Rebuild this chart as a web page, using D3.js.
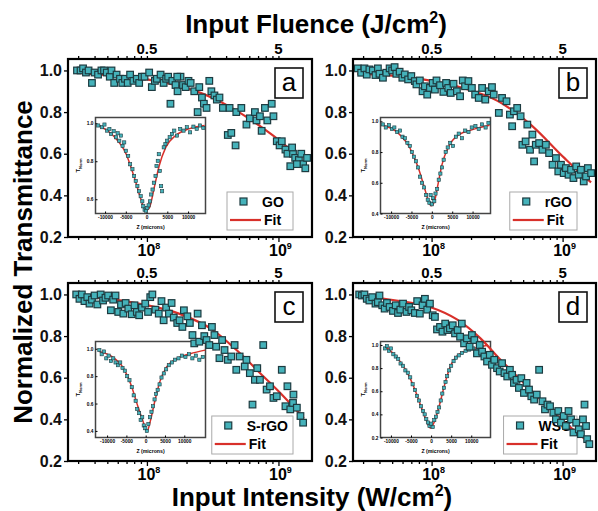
<!DOCTYPE html>
<html>
<head>
<meta charset="utf-8">
<script src="https://cdn.jsdelivr.net/npm/d3@7"></script>
<style>
  body { margin: 0; background: #fff; }
  svg { display: block; font-family: "Liberation Sans", Arial, sans-serif; }
</style>
</head>
<body>
<div id="chart"></div>
<script>
// intensities are listed in units of 1e8 W/cm^2
const UNIT = 1e8;
const PULSE = 5e-9; // fluence (J/cm^2) = intensity * pulse width

const samples = ['GO', 'rGO', 'S-rGO', 'WSG'];
const letters = ['a', 'b', 'c', 'd'];
const yTicks = [0.2, 0.4, 0.6, 0.8, 1.0];
const decadeTicks = [1e8, 1e9];
const fluenceLabels = [0.5, 5];
const zTicks = [-10000, -5000, 0, 5000, 10000];

// open aperture points [I (1e8 W/cm^2), normalized T]
const pointsGO = [[0.294,1.00],[0.313,1.00],[0.327,1.01],[0.344,0.99],[0.36,1.00],[0.382,0.94],[0.40,0.99],[0.425,0.98],[0.451,1.00],[0.472,1.00],[0.495,0.99],[0.522,0.97],[0.538,1.00],[0.564,0.94],[0.588,0.98],[0.624,0.96],[0.65,0.94],[0.681,0.96],[0.714,0.94],[0.745,0.98],[0.789,0.95],[0.838,0.96],[0.873,0.94],[0.916,0.97],[0.959,0.97],[1.04,0.99],[1.09,0.92],[1.15,0.95],[1.19,0.96],[1.27,0.98],[1.34,0.94],[1.40,0.96],[1.45,0.97],[1.51,0.84],[1.56,0.95],[1.65,0.93],[1.71,0.90],[1.80,0.97],[1.88,0.93],[1.97,0.92],[2.07,0.95],[1.70,0.97],[2.15,0.94],[2.29,0.90],[2.43,0.80],[2.50,0.92],[2.62,0.87],[2.71,0.84],[2.84,0.82],[2.98,0.95],[3.09,0.90],[3.26,0.88],[3.40,0.86],[3.56,0.87],[3.78,0.82],[4.12,0.69],[4.38,0.70],[4.25,0.82],[4.72,0.64],[4.78,0.80],[5.22,0.82],[5.71,0.74],[6.06,0.77],[6.62,0.80],[6.81,0.76],[7.23,0.78],[7.45,0.71],[7.89,0.82],[8.23,0.76],[8.89,0.84],[9.16,0.78],[9.71,0.66],[10.2,0.64],[10.6,0.66],[11.3,0.62],[11.7,0.60],[12.3,0.54],[12.9,0.60],[13.4,0.58],[14.3,0.57],[14.9,0.60],[15.4,0.55],[16.0,0.53],[16.5,0.58],[12.7,0.63],[13.8,0.55]];
const pointsRGO = [[0.273,1.01],[0.29,0.989],[0.307,1.01],[0.32,0.98],[0.335,1.005],[0.356,1.0],[0.373,0.978],[0.389,1.01],[0.40,0.984],[0.425,0.965],[0.451,0.989],[0.478,1.01],[0.50,1.0],[0.522,1.016],[0.538,0.984],[0.57,0.994],[0.598,0.965],[0.624,0.981],[0.662,0.957],[0.70,0.973],[0.745,0.949],[0.766,0.933],[0.813,0.952],[0.853,0.90],[0.889,0.924],[0.926,0.884],[0.971,0.916],[1.02,0.94],[1.06,0.908],[1.09,0.952],[1.16,0.929],[1.23,0.897],[1.29,0.94],[1.34,0.916],[1.40,0.892],[1.47,0.936],[1.56,0.90],[1.65,0.876],[1.73,0.952],[1.80,0.924],[1.91,0.949],[2.03,0.916],[2.15,0.884],[2.29,0.868],[2.43,0.916],[2.57,0.86],[2.73,0.90],[2.89,0.92],[2.98,0.884],[3.26,0.796],[3.45,0.868],[3.73,0.852],[3.96,0.788],[4.12,0.732],[4.25,0.804],[4.50,0.82],[4.78,0.78],[4.93,0.643],[5.22,0.659],[5.38,0.74],[5.64,0.619],[5.88,0.692],[6.06,0.563],[6.24,0.643],[6.62,0.651],[7.02,0.619],[7.45,0.643],[7.89,0.603],[8.38,0.547],[8.89,0.579],[9.27,0.515],[9.71,0.547],[10.2,0.507],[10.6,0.531],[11.1,0.499],[11.6,0.523],[12.1,0.483],[12.7,0.539],[13.3,0.499],[13.8,0.523],[14.5,0.467],[15.1,0.491],[15.6,0.531],[16.5,0.507]];
const pointsSRGO = [[0.29,1.0],[0.307,0.979],[0.32,1.0],[0.335,0.968],[0.352,0.987],[0.366,0.956],[0.382,0.975],[0.40,0.995],[0.42,0.952],[0.445,1.0],[0.464,0.971],[0.484,0.984],[0.507,0.995],[0.532,0.924],[0.554,0.975],[0.577,0.995],[0.605,0.916],[0.635,0.952],[0.662,0.908],[0.689,0.959],[0.722,0.932],[0.766,0.905],[0.804,0.948],[0.838,0.916],[0.873,0.90],[0.916,0.937],[0.971,0.956],[1.02,0.916],[1.06,0.987],[1.10,1.0],[1.16,0.927],[1.23,0.908],[1.29,0.968],[1.34,0.876],[1.40,0.937],[1.47,0.908],[1.54,0.959],[1.60,0.889],[1.70,0.863],[1.77,0.876],[1.86,0.844],[1.91,0.924],[2.03,0.895],[2.12,0.863],[2.22,0.805],[2.29,0.765],[2.43,0.908],[2.50,0.773],[2.62,0.852],[2.73,0.80],[2.84,0.781],[2.98,0.757],[3.12,0.844],[3.26,0.805],[3.36,0.749],[3.56,0.694],[3.73,0.781],[3.89,0.733],[4.12,0.686],[4.38,0.702],[4.64,0.757],[4.78,0.638],[5.07,0.702],[5.54,0.654],[5.71,0.686],[6.06,0.622],[6.35,0.471],[6.62,0.59],[6.9,0.646],[7.23,0.59],[7.66,0.757],[8.13,0.543],[8.62,0.559],[9.16,0.503],[9.71,0.511],[10.6,0.638],[11.3,0.463],[11.7,0.559],[12.3,0.448],[12.9,0.479],[13.0,0.519],[13.8,0.456],[14.7,0.416],[15.4,0.384]];
const pointsWSG = [[0.28,1.0],[0.294,0.995],[0.307,1.0],[0.32,0.979],[0.335,0.971],[0.352,0.987],[0.373,0.956],[0.389,0.963],[0.40,0.995],[0.42,0.948],[0.438,0.932],[0.456,0.959],[0.478,0.94],[0.507,0.921],[0.532,0.948],[0.554,0.911],[0.577,0.927],[0.605,0.956],[0.643,0.916],[0.673,0.94],[0.70,0.924],[0.745,0.911],[0.776,0.968],[0.813,0.908],[0.853,0.948],[0.889,0.979],[0.926,0.927],[0.971,0.956],[1.02,0.90],[1.06,0.892],[1.10,0.832],[1.16,0.844],[1.21,0.821],[1.27,0.86],[1.32,0.829],[1.38,0.837],[1.45,0.852],[1.51,0.813],[1.58,0.829],[1.65,0.797],[1.70,0.86],[1.77,0.765],[1.86,0.789],[1.95,0.749],[2.03,0.805],[2.12,0.781],[2.22,0.717],[2.33,0.757],[2.43,0.725],[2.53,0.702],[2.65,0.678],[2.78,0.71],[2.89,0.662],[3.01,0.686],[3.16,0.646],[3.31,0.63],[3.45,0.67],[3.60,0.622],[3.78,0.606],[3.96,0.638],[4.12,0.614],[4.25,0.575],[4.45,0.59],[4.64,0.551],[4.84,0.598],[5.07,0.527],[5.31,0.575],[5.54,0.543],[5.77,0.511],[6.06,0.495],[6.35,0.519],[6.62,0.638],[7.02,0.487],[7.34,0.448],[7.66,0.471],[8.02,0.463],[8.5,0.432],[8.89,0.40],[9.27,0.44],[9.71,0.384],[10.2,0.416],[10.6,0.368],[11.1,0.44],[11.6,0.40],[12.1,0.337],[12.7,0.384],[13.3,0.352],[13.8,0.329],[14.3,0.40],[14.7,0.471],[15.1,0.368],[15.4,0.305],[16.0,0.281]];

// fitted curves [I (1e8 W/cm^2), T]
const fitGO = [[0.29,0.99],[0.5,0.978],[1.0,0.957],[2.0,0.915],[3.16,0.868],[5.0,0.80],[7.94,0.715],[10,0.668],[12.6,0.612],[16.6,0.525]];
const fitRGO = [[0.27,0.985],[0.5,0.975],[1.0,0.95],[1.75,0.915],[3.16,0.855],[5.7,0.74],[10.3,0.58],[15.6,0.475],[16.5,0.462]];
const fitSRGO = [[0.29,0.99],[0.5,0.98],[0.97,0.95],[1.75,0.908],[3.16,0.83],[4.8,0.733],[7.7,0.606],[10.9,0.511],[15.6,0.405]];
const fitWSG = [[0.28,0.995],[0.538,0.971],[0.971,0.94],[1.56,0.88],[2.36,0.789],[3.36,0.686],[4.78,0.59],[7.66,0.463],[10.4,0.384],[16.0,0.289]];

// inset Z-scan points [z (microns), normalized T]
const zscanGO = [[-11650,0.988],[-10700,0.979],[-10140,0.993],[-9510,0.961],[-8950,0.97],[-8560,0.943],[-7930,0.958],[-7370,0.926],[-6970,0.947],[-6570,0.908],[-6180,0.935],[-5780,0.881],[-5380,0.899],[-4990,0.855],[-4430,0.828],[-3960,0.784],[-3400,0.758],[-3000,0.722],[-2610,0.696],[-2210,0.669],[-1820,0.642],[-1420,0.616],[-1020,0.589],[-790,0.563],[-470,0.545],[-150,0.54],[170,0.554],[490,0.568],[810,0.589],[1120,0.625],[1440,0.651],[1760,0.687],[2160,0.722],[2400,0.775],[2710,0.802],[2950,0.837],[3190,0.749],[3510,0.669],[3750,0.642],[4140,0.873],[4540,0.89],[4940,0.908],[5570,0.926],[6130,0.943],[6680,0.961],[7320,0.935],[8110,0.97],[8910,0.961],[9700,0.979],[10490,0.952],[11290,0.982],[12080,0.97],[12880,0.988],[13670,0.975]];
const zscanRGO = [[-12000,0.98],[-11300,0.96],[-10500,0.975],[-9800,0.95],[-9200,0.96],[-8500,0.93],[-7800,0.94],[-7200,0.9],[-6600,0.89],[-6000,0.86],[-5400,0.84],[-4900,0.8],[-4400,0.77],[-3900,0.74],[-3400,0.7],[-2900,0.64],[-2400,0.6],[-1900,0.57],[-1400,0.52],[-1000,0.49],[-600,0.47],[-300,0.52],[0,0.46],[300,0.5],[600,0.48],[900,0.53],[1300,0.56],[1700,0.62],[2100,0.66],[2500,0.7],[2900,0.75],[3400,0.8],[3900,0.83],[4500,0.86],[5200,0.84],[5900,0.9],[6600,0.92],[7400,0.89],[8200,0.94],[9000,0.93],[9800,0.96],[10700,0.97],[11500,0.95],[12300,0.98],[13200,0.96],[13900,0.99]];
const zscanSRGO = [[-12000,0.99],[-11400,0.96],[-10800,0.98],[-10200,0.93],[-9600,0.95],[-9000,0.91],[-8400,0.93],[-7800,0.9],[-7200,0.88],[-6600,0.9],[-6000,0.86],[-5400,0.84],[-4800,0.8],[-4200,0.77],[-3600,0.72],[-3100,0.66],[-2600,0.62],[-2200,0.56],[-1700,0.53],[-1300,0.48],[-900,0.5],[-500,0.44],[-100,0.42],[300,0.4],[700,0.45],[1100,0.5],[1500,0.54],[1900,0.58],[2300,0.63],[2700,0.67],[3100,0.7],[3600,0.74],[4100,0.79],[4700,0.82],[5300,0.85],[6000,0.88],[6800,0.9],[7600,0.92],[8500,0.93],[9400,0.95],[10300,0.94],[11200,0.96],[12100,0.93],[13000,0.95],[13900,0.92],[14800,0.94]];
const zscanWSG = [[-11500,0.97],[-11000,0.99],[-10500,0.95],[-10000,0.97],[-9400,0.92],[-8800,0.9],[-8200,0.88],[-7600,0.84],[-7000,0.82],[-6400,0.78],[-5800,0.76],[-5200,0.72],[-4600,0.66],[-4000,0.61],[-3500,0.56],[-3000,0.52],[-2500,0.47],[-2000,0.43],[-1600,0.4],[-1200,0.36],[-800,0.33],[-400,0.3],[0,0.32],[400,0.29],[800,0.35],[1200,0.38],[1600,0.42],[2000,0.46],[2400,0.52],[2800,0.58],[3200,0.63],[3600,0.68],[4000,0.73],[4500,0.78],[5000,0.82],[5600,0.86],[6200,0.89],[6900,0.91],[7700,0.93],[8600,0.95],[9500,0.96],[10500,0.97],[11500,0.95],[12500,0.98]];

// inset fits [z (microns), T]
const zfitGO = [[-12050,0.993],[-8080,0.935],[-4900,0.837],[-2920,0.713],[-1330,0.598],[-300,0.54],[650,0.554],[1840,0.66],[3030,0.775],[4620,0.873],[7000,0.935],[10180,0.97],[14000,0.988]];
const zfitRGO = [[-12075,0.974],[-8325,0.925],[-5410,0.828],[-3325,0.698],[-1825,0.569],[-825,0.482],[-160,0.45],[675,0.482],[1510,0.59],[2510,0.72],[4175,0.838],[6675,0.914],[10010,0.946],[14175,0.974]];
const zfitSRGO = [[-12100,0.981],[-8600,0.94],[-5970,0.868],[-3780,0.736],[-2030,0.58],[-710,0.473],[340,0.396],[1220,0.473],[2360,0.617],[3680,0.76],[5430,0.868],[8060,0.928],[11570,0.964],[15400,0.99]];
const zfitWSG = [[-11240,0.984],[-8325,0.884],[-5825,0.754],[-4160,0.625],[-2490,0.467],[-1240,0.352],[-160,0.28],[840,0.338],[2090,0.481],[3340,0.653],[4590,0.797],[6675,0.912],[10010,0.964],[14175,0.998]];

const insetYTicks = [[0.6, 0.8, 1.0], [0.4, 0.6, 0.8, 1.0], [0.4, 0.6, 0.8, 1.0], [0.2, 0.4, 0.6, 0.8, 1.0]];

const width = 598, height = 511;
const teal = '#45b2ba', tealEdge = '#1d3b40', red = '#d8302a';
const font = '"Liberation Sans", Arial, sans-serif';

const panels = [
    { x0: 68, y0: 59, w: 244, pts: pointsGO, fit: fitGO, zs: zscanGO, zf: zfitGO, zDom: [-12300, 14200], tDom: [0.525, 1.03] },
    { x0: 353, y0: 59, w: 243, pts: pointsRGO, fit: fitRGO, zs: zscanRGO, zf: zfitRGO, zDom: [-12600, 14400], tDom: [0.4, 1.025] },
    { x0: 68, y0: 283, w: 244, pts: pointsSRGO, fit: fitSRGO, zs: zscanSRGO, zf: zfitSRGO, zDom: [-13000, 15500], tDom: [0.352, 1.053] },
    { x0: 353, y0: 283, w: 243, pts: pointsWSG, fit: fitWSG, zs: zscanWSG, zf: zfitWSG, zDom: [-12600, 14800], tDom: [0.2, 1.03] },
];
const plotH = 178;
const xDomain = [10 ** 7.40, 10 ** 9.255];
const yDomain = [0.2, 1.055];

const svg = d3.select('#chart').append('svg')
    .attr('width', width)
    .attr('height', height);

panels.forEach((p, i) => {
    const g = svg.append('g').attr('transform', `translate(${p.x0},${p.y0})`);
    const x = d3.scaleLog().domain(xDomain).range([0, p.w]);
    const y = d3.scaleLinear().domain(yDomain).range([plotH, 0]);
    const xf = d3.scaleLog().domain(xDomain.map((v) => v * PULSE)).range([0, p.w]);

    // bottom axis, log minor ticks
    g.append('g')
        .attr('transform', `translate(0,${plotH})`)
        .call(d3.axisBottom(x).tickValues(x.ticks()).tickSize(3).tickFormat(''))
        .call((a) => a.select('.domain').remove())
        .call((a) => a.selectAll('.tick line').attr('stroke-width', 1.3)
            .attr('y2', (d) => (decadeTicks.includes(d) ? 5 : 3)));
    const dl = g.append('g').selectAll('text').data(decadeTicks).join('text')
        .attr('x', (d) => x(d) + 2)
        .attr('y', plotH + 19)
        .attr('text-anchor', 'middle')
        .attr('font-size', 16)
        .attr('font-weight', 'bold');
    dl.append('tspan').text('10');
    dl.append('tspan').attr('dy', -7).attr('font-size', 9).text((d) => Math.round(Math.log10(d)));

    // top axis (fluence)
    const fTicks = [];
    [0.05, 0.5, 5].forEach((b) => d3.range(1, 10).forEach((k) => {
        const v = b * k;
        if (v >= xf.domain()[0] && v <= xf.domain()[1]) fTicks.push(v);
    }));
    g.append('g')
        .call(d3.axisTop(xf).tickValues(fTicks).tickSize(3).tickFormat(''))
        .call((a) => a.select('.domain').remove())
        .call((a) => a.selectAll('.tick line').attr('stroke-width', 1.3));
    g.append('g').selectAll('text').data(fluenceLabels).join('text')
        .attr('x', (d) => xf(d))
        .attr('y', -5)
        .attr('text-anchor', 'middle')
        .attr('font-size', 15)
        .attr('font-weight', 'bold')
        .text((d) => d);

    // left axis
    g.append('g')
        .call(d3.axisLeft(y).tickValues(yTicks).tickSize(4).tickPadding(2).tickFormat(d3.format('.1f')))
        .call((a) => a.select('.domain').remove())
        .call((a) => a.selectAll('.tick line').attr('stroke-width', 1.3))
        .call((a) => a.selectAll('.tick text').attr('font-size', 16).attr('font-weight', 'bold')
            .attr('font-family', font).attr('fill', '#111'));

    // inset
    const iw = 110, ih = 96;
    const ig = g.append('g').attr('transform', 'translate(27.5,58.5)');
    const zx = d3.scaleLinear().domain(p.zDom).range([0, iw]);
    const zy = d3.scaleLinear().domain(p.tDom).range([ih, 0]);
    ig.append('rect').attr('width', iw).attr('height', ih)
        .attr('fill', '#fff').attr('stroke', '#444').attr('stroke-width', 1.5);
    ig.append('g').attr('transform', `translate(0,${ih})`)
        .call(d3.axisBottom(zx).tickValues(zTicks).tickSize(-2).tickPadding(2).tickFormat((d) => String(d)))
        .call((a) => a.select('.domain').remove())
        .call((a) => a.selectAll('.tick text').attr('font-size', 4.8).attr('font-weight', 'bold')
            .attr('font-family', font));
    ig.append('g')
        .call(d3.axisLeft(zy).tickValues(insetYTicks[i]).tickSize(-2).tickPadding(2).tickFormat(d3.format('.1f')))
        .call((a) => a.select('.domain').remove())
        .call((a) => a.selectAll('.tick text').attr('font-size', 4.8).attr('font-weight', 'bold')
            .attr('font-family', font));
    ig.append('text')
        .attr('x', iw / 2)
        .attr('y', ih + 15)
        .attr('text-anchor', 'middle')
        .attr('font-size', 5.2)
        .attr('font-weight', 'bold')
        .text('Z (microns)');
    const yl = ig.append('text')
        .attr('transform', `translate(-16,${ih / 2}) rotate(-90)`)
        .attr('text-anchor', 'middle')
        .attr('font-size', 6)
        .attr('font-weight', 'bold');
    yl.append('tspan').text('T');
    yl.append('tspan').attr('dy', 2).attr('font-size', 4).text('Norm');
    ig.append('path')
        .datum(p.zf)
        .attr('fill', 'none')
        .attr('stroke', red)
        .attr('stroke-width', 1.5)
        .attr('d', d3.line().x((d) => zx(d[0])).y((d) => zy(d[1])).curve(d3.curveMonotoneX));
    ig.append('g').selectAll('rect').data(p.zs).join('rect')
        .attr('x', (d) => zx(d[0]) - 1.6)
        .attr('y', (d) => zy(d[1]) - 1.6)
        .attr('width', 3.2)
        .attr('height', 3.2)
        .attr('fill', teal)
        .attr('stroke', tealEdge)
        .attr('stroke-width', 0.6);

    // legend
    const lg = g.append('g');
    const lname = lg.append('text')
        .attr('y', 0)
        .attr('font-size', 14)
        .attr('font-weight', 'bold')
        .text(samples[i]);
    const tw = lname.node().getComputedTextLength();
    const lw = Math.max(66, 40 + tw);
    const lx = p.w - 19 - lw, ly = plotH - 45;
    lg.attr('transform', `translate(${lx},${ly})`);
    lg.insert('rect', 'text').attr('width', lw).attr('height', 38)
        .attr('fill', '#fff').attr('stroke', '#aaa').attr('stroke-width', 1);
    lname.attr('x', 35).attr('y', 15);
    lg.append('rect').attr('x', 13).attr('y', 6).attr('width', 7).attr('height', 7)
        .attr('fill', teal).attr('stroke', tealEdge).attr('stroke-width', 1.2);
    lg.append('line').attr('x1', 3).attr('x2', 34).attr('y1', 28).attr('y2', 28)
        .attr('stroke', red).attr('stroke-width', 2.2);
    lg.append('text').attr('x', 37).attr('y', 33)
        .attr('font-size', 14).attr('font-weight', 'bold').text('Fit');

    // fit and points
    g.append('path')
        .datum(p.fit)
        .attr('fill', 'none')
        .attr('stroke', red)
        .attr('stroke-width', 2.2)
        .attr('d', d3.line().x((d) => x(d[0] * UNIT)).y((d) => y(d[1])).curve(d3.curveMonotoneX));
    g.append('g').selectAll('rect').data(p.pts).join('rect')
        .attr('x', (d) => x(d[0] * UNIT) - 3.3)
        .attr('y', (d) => y(d[1]) - 3.3)
        .attr('width', 6.6)
        .attr('height', 6.6)
        .attr('fill', teal)
        .attr('stroke', tealEdge)
        .attr('stroke-width', 1.2);

    // letter box
    const bx = p.w - 37, by = 9;
    g.append('rect').attr('x', bx).attr('y', by).attr('width', 28).attr('height', 30)
        .attr('fill', '#fff').attr('stroke', '#111').attr('stroke-width', 1.6);
    g.append('text').attr('x', bx + 14).attr('y', by + 23)
        .attr('text-anchor', 'middle').attr('font-size', 26).text(letters[i]);

    // frame
    g.append('rect').attr('width', p.w).attr('height', plotH)
        .attr('fill', 'none').attr('stroke', '#000').attr('stroke-width', 2.2);
});

// axis titles
const t1 = svg.append('text').attr('x', 316).attr('y', 33).attr('text-anchor', 'middle')
    .attr('font-size', 26).attr('font-weight', 'bold');
t1.append('tspan').text('Input Fluence (J/cm');
t1.append('tspan').attr('dy', -10).attr('font-size', 16).text('2');
t1.append('tspan').attr('dy', 10).text(')');

const t2 = svg.append('text').attr('x', 312).attr('y', 506).attr('text-anchor', 'middle')
    .attr('font-size', 26).attr('font-weight', 'bold');
t2.append('tspan').text('Input Intensity (W/cm');
t2.append('tspan').attr('dy', -10).attr('font-size', 16).text('2');
t2.append('tspan').attr('dy', 10).text(')');

svg.append('text')
    .attr('transform', 'translate(32,262) rotate(-90)')
    .attr('text-anchor', 'middle')
    .attr('font-size', 26)
    .attr('font-weight', 'bold')
    .text('Normalized Transmittance');
</script>
</body>
</html>
